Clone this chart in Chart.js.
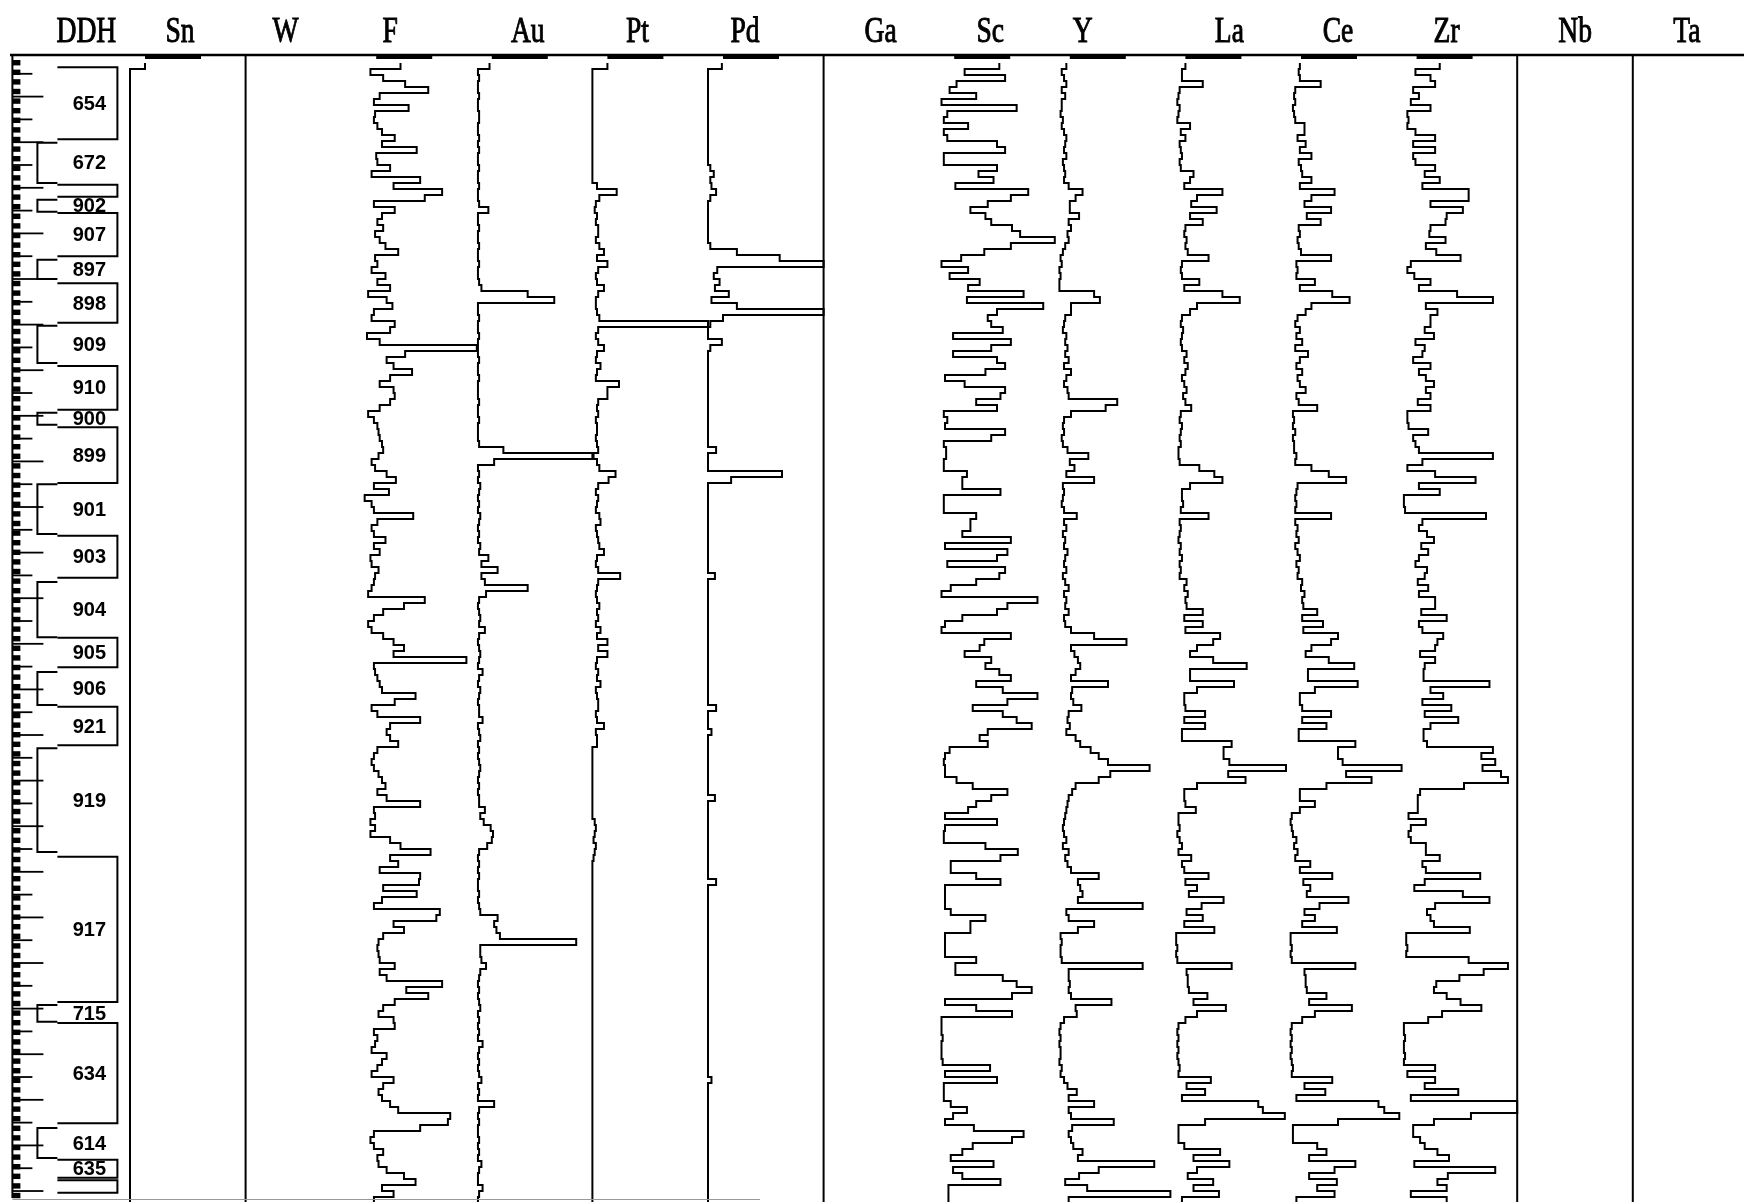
<!DOCTYPE html>
<html lang="en">
<head>
<meta charset="UTF-8">
<title>DDH geochemical log</title>
<script src="https://cdn.jsdelivr.net/npm/chart.js@4/dist/chart.umd.min.js"></script>
<style>
  body { margin: 0; background: #fff; }
  #wrap { width: 1744px; height: 1202px; }
</style>
</head>
<body>
<div id="wrap"><canvas id="logChart" width="1744" height="1202"></canvas></div>
<script>
// column headers, left to right
const columns = ['DDH', 'Sn', 'W', 'F', 'Au', 'Pt', 'Pd', 'Ga', 'Sc', 'Y', 'La', 'Ce', 'Zr', 'Nb', 'Ta'];

// one reading per sample interval down the hole, % of the column's full scale
const sn = [
  13,0,0,0,0,0,0,0,0,0, 0,0,0,0,0,0,0,0,0,0, 0,0,0,0,0,0,0,0,0,0, 0,0,0,0,0,0,0,0,0,0,
  0,0,0,0,0,0,0,0,0,0, 0,0,0,0,0,0,0,0,0,0, 0,0,0,0,0,0,0,0,0,0, 0,0,0,0,0,0,0,0,0,0,
  0,0,0,0,0,0,0,0,0,0, 0,0,0,0,0,0,0,0,0,0, 0,0,0,0,0,0,0,0,0,0, 0,0,0,0,0,0,0,0,0,0,
  0,0,0,0,0,0,0,0,0,0, 0,0,0,0,0,0,0,0,0,0, 0,0,0,0,0,0,0,0,0,0, 0,0,0,0,0,0,0,0,0,0,
  0,0,0,0,0,0,0,0,0,0, 0,0,0,0,0,0,0,0,0,0, 0,0,0,0,0,0,0,0,0,0
];
const f = [
  34,8,19,38,58,16,11,41,12,11, 14,18,29,18,48,13,14,25,9,51, 28,70,55,11,29,18,14,19,12,16,
  21,32,12,14,9,21,14,25,6,22, 27,11,9,29,25,5,16,100,38,22, 28,44,25,16,28,29,25,16,6,11,
  14,15,16,18,19,15,9,12,22,30, 11,24,3,9,11,45,14,9,11,21, 11,16,8,9,15,12,11,9,6,55,
  37,19,11,6,9,19,28,37,28,91, 11,12,14,16,18,47,29,9,14,51, 25,22,25,32,14,11,9,11,15,18,
  21,14,22,51,11,12,8,12,8,25, 34,60,25,32,16,51,50,19,48,18, 11,68,65,28,37,19,15,14,15,16,
  29,16,22,70,39,58,29,19,15,28, 29,11,14,12,9,22,18,14,9,28, 19,15,18,25,32,77,75,51,11,8,
  11,19,14,15,22,37,47,18,28,11
];
const au = [
  11,1,2,1,1,2,1,1,2,2, 1,1,2,1,2,1,1,2,1,1, 2,1,1,2,10,1,1,2,1,1, 2,1,1,2,1,1,2,4,44,67,
  1,1,2,1,1,2,1,1,1,2, 1,1,2,1,1,1,2,1,1,2, 1,1,1,2,23,100,15,1,2,1, 3,2,1,2,1,3,2,1,2,1,
  3,2,10,4,18,4,7,44,8,2, 1,2,3,2,7,2,1,2,3,2, 1,5,2,1,3,2,1,2,2,5, 1,2,3,1,2,1,2,3,2,1,
  2,1,2,2,7,3,6,12,14,13, 9,2,1,2,1,2,1,1,2,1, 2,3,18,15,17,20,86,3,3,4, 8,3,2,1,2,1,2,3,1,2,
  1,2,1,5,2,1,2,1,2,4, 1,2,1,15,2,1,2,1,1,2, 1,2,1,4,2,1,1,5,2,1
];
const pt = [
  13,0,0,0,0,0,0,0,0,0, 0,0,0,0,0,0,0,0,0,0, 4,21,6,3,2,4,3,5,5,3, 6,10,4,13,5,3,4,10,5,3,
  3,4,6,100,5,3,5,10,4,3, 7,4,3,23,13,13,5,4,5,3, 4,4,3,4,5,1,4,6,20,14, 5,3,5,4,3,6,7,3,4,5,
  6,10,4,3,5,24,5,4,3,4, 6,4,5,3,7,4,13,5,13,4, 3,5,4,7,3,4,5,5,3,4, 10,3,4,4,0,0,0,0,0,0,
  0,0,0,0,0,0,2,3,2,1, 3,2,1,0,0,0,0,0,0,0, 0,0,0,0,0,0,0,0,0,0, 0,0,0,0,0,0,0,0,0,0,
  0,0,0,0,0,0,0,0,0,0, 0,0,0,0,0,0,0,0,0,0, 0,0,0,0,0,0,0,0,0,0
];
const pd = [
  12,0,0,0,0,0,0,0,0,0, 0,0,0,0,0,0,0,2,5,2, 3,7,2,0,0,0,0,0,0,0, 2,25,62,100,8,5,10,6,18,3,
  25,100,13,2,0,0,12,2,0,0, 0,0,0,0,0,0,0,0,0,0, 0,0,0,0,7,0,0,0,64,20, 0,0,0,0,0,0,0,0,0,0,
  0,0,0,0,0,6,0,0,0,0, 0,0,0,0,0,0,0,0,0,0, 0,0,0,0,0,0,0,7,0,0, 0,3,0,0,0,0,0,0,0,0,
  0,0,6,0,0,0,0,0,0,0, 0,0,0,0,0,0,7,0,0,0, 0,0,0,0,0,0,0,0,0,0, 0,0,0,0,0,0,0,0,0,0,
  0,0,0,0,0,0,0,0,0,3, 0,0,0,0,0,0,0,0,0,0, 0,0,0,0,0,0,0,0,0,0
];
const sc = [
  52,22,57,15,9,32,2,67,7,4, 25,4,7,50,57,4,4,50,34,47, 14,77,62,42,27,40,45,63,70,100,
  62,39,19,2,25,9,35,25,73,24, 90,50,42,45,55,12,62,45,12,50, 57,40,5,22,57,53,32,50,4,7,
  5,57,45,4,6,6,4,4,24,20, 20,53,4,4,4,32,27,27,20,62, 5,59,50,7,57,52,32,10,2,85,
  59,50,20,5,2,62,39,35,22,45, 40,52,62,32,55,85,59,29,55,67, 80,42,35,42,9,5,4,5,5,15,
  29,59,45,32,25,5,50,5,4,4, 40,68,53,10,10,32,53,5,5,5, 5,10,40,27,27,5,5,5,5,32,
  14,14,55,67,80,63,5,32,63,2, 2,2,3,2,2,2,3,44,5,50, 4,4,4,10,24,12,5,30,73,63,
  29,20,10,47,12,20,53,8,8,8
];
const yt = [
  10,6,8,10,6,9,6,6,5,7, 6,8,10,9,8,10,7,8,9,8, 12,24,18,13,13,21,12,14,11,12,
  9,7,5,6,4,5,4,4,34,39, 14,14,9,8,7,10,9,11,9,12, 8,14,10,8,11,12,54,44,14,8,
  7,8,6,7,11,29,13,17,10,34, 7,8,7,6,8,19,8,10,7,9, 8,11,9,8,10,7,9,12,8,10,
  9,12,8,9,14,34,62,14,17,20, 22,18,14,46,15,14,16,23,12,11, 13,10,18,22,31,38,46,82,48,38,
  18,15,12,11,10,9,8,7,8,10, 7,12,9,11,14,38,20,22,24,20, 76,10,12,34,20,5,6,5,5,6,
  76,12,12,13,12,14,49,18,19,8, 5,4,5,4,5,5,4,6,5,8, 11,19,12,34,12,14,51,15,12,14,
  16,24,20,86,38,21,9,28,100,12
];
const la = [
  13,10,10,28,8,7,6,8,7,6, 17,9,13,8,9,10,8,9,20,17, 12,45,23,18,40,17,28,13,12,14,
  13,15,33,10,9,10,25,12,45,60, 23,17,10,9,11,10,9,10,14,12, 15,13,10,12,14,11,13,18,9,8,
  10,9,8,9,7,7,8,25,38,45, 17,10,10,11,9,33,8,9,8,7, 9,8,10,8,9,8,14,12,15,13,
  14,28,12,28,13,43,37,23,17,37, 66,17,17,55,23,12,12,13,30,12, 30,10,10,53,46,46,51,100,50,65,
  23,12,12,13,22,7,7,8,6,8, 10,7,18,10,12,33,13,23,16,46, 27,14,28,12,38,5,5,6,5,6,
  53,14,15,15,16,32,20,48,23,13, 7,6,7,6,7,6,7,8,7,35, 14,30,10,76,80,99,30,7,7,7,
  12,43,20,51,23,15,37,20,42,10
];
const ce = [
  12,11,12,30,8,7,8,6,7,8, 16,16,10,17,12,22,11,13,14,22, 12,42,22,16,39,18,30,11,12,10,
  11,13,39,9,10,9,25,12,40,55, 22,17,10,8,12,9,14,8,19,12, 9,14,10,12,17,9,11,27,6,7,
  6,8,6,7,7,9,8,22,37,52, 10,9,8,9,8,39,8,10,9,11, 8,10,12,9,11,10,14,13,16,14,
  15,27,14,32,15,45,39,22,17,37, 59,19,19,62,25,12,12,14,39,14, 35,11,11,60,45,45,49,100,52,74,
  35,12,12,25,12,5,4,5,6,9, 7,10,8,21,12,40,15,21,18,54, 29,16,25,14,44,4,4,5,4,5,
  60,16,17,17,18,35,20,57,25,14, 5,4,5,4,5,4,5,6,5,40, 16,34,9,80,85,98,45,6,6,6,
  27,35,20,60,42,20,44,27,42,9
];
const zr = [
  33,12,25,29,10,15,8,25,5,6, 5,12,29,10,29,10,12,29,20,33, 18,58,58,25,53,39,38,25,24,38,
  21,30,51,8,5,11,25,15,48,79, 21,31,25,25,20,28,12,20,18,10, 25,15,21,28,21,25,14,25,5,5,
  6,23,10,12,15,79,18,5,29,64, 15,33,2,2,3,73,18,15,22,28, 17,23,15,12,22,20,14,23,15,29,
  29,17,39,15,18,36,31,29,16,29, 20,19,19,76,25,36,18,43,20,49, 25,19,19,22,79,69,81,70,86,92,
  54,16,14,14,14,6,21,8,6,8, 21,21,33,18,21,68,20,11,53,76, 29,22,25,28,59,4,4,5,4,58,
  92,71,50,30,28,39,51,69,35,23, 2,2,3,2,2,3,2,29,5,29, 20,49,8,100,100,60,28,10,10,16,
  20,31,41,11,81,40,31,39,8,39
];

// drill holes down the log: id, top and base in sample units, side of the bracket
const holeIds  = ['654','672','','902','907','897','898','909','910','900','899','901',
                  '903','904','905','906','921','919','917','715','634','614','635',''];
const holeTop  = [0.7,13.3,20.3,22.8,25,32.8,36.7,43.8,50.5,58.3,60.7,70.2,
                  78.8,86.5,95.8,101.5,107.3,114.2,132.3,157,160,177.5,182.8,186.2];
const holeBase = [12.7,20,22.3,24.8,32.2,36,43.3,50,57.8,60.3,70,78.5,
                  85.8,95.7,100.7,107,113.7,131.5,156.5,159.8,176.7,182.5,185.8,188.3];
const holeSide = ['R','L','R','L','R','L','R','L','R','L','R','L',
                  'R','L','R','L','R','L','R','L','R','L','R','R'];

const traces = [['Sn', sn], ['F', f], ['Au', au], ['Pt', pt], ['Pd', pd],
                ['Sc', sc], ['Y', yt], ['La', la], ['Ce', ce], ['Zr', zr]];
const blankCols = ['W', 'Ga', 'Nb', 'Ta'];

// header text offset from each column's left edge (px)
const headerShift = [72, 50, 40, 29, 51, 45, 37, 57, 51, 28, 59, 52, 45, 58, 54];

const TOP = -1.5, BOTTOM = 189.83;

const lineStyle = {
  showLine: true, stepped: 'after', pointRadius: 0, borderColor: '#000',
  borderWidth: 2, fill: false, tension: 0
};

const datasets = traces.map(([name, vals]) => {
  const k = columns.indexOf(name);
  const pts = vals.map((v, i) => ({ x: k + Math.min(v, 100) / 100, y: i }));
  pts.push({ x: pts[pts.length - 1].x, y: vals.length });
  return { label: name, data: pts, ...lineStyle };
});
blankCols.forEach(name => {
  const k = columns.indexOf(name);
  datasets.push({ label: name, data: [{ x: k, y: TOP }, { x: k, y: BOTTOM + 1 }], ...lineStyle });
});

// header, depth ruler and hole brackets in the DDH column
const logFrame = {
  id: 'logFrame',
  afterDraw(chart) {
    const { ctx, scales: { x, y } } = chart;
    const left = k => x.getPixelForValue(k);
    const py = d => y.getPixelForValue(d);
    ctx.save();
    ctx.fillStyle = '#000';
    ctx.strokeStyle = '#000';

    ctx.lineWidth = 2.5;
    ctx.beginPath();
    ctx.moveTo(10, 55);
    ctx.lineTo(chart.width, 55);
    ctx.stroke();

    // element names, drawn tall and narrow
    ctx.font = '30px "Liberation Serif", "DejaVu Serif", serif';
    ctx.textAlign = 'center';
    ctx.textBaseline = 'alphabetic';
    ctx.lineWidth = 0.8;
    columns.forEach((name, k) => {
      ctx.save();
      ctx.translate(left(k) + headerShift[k], 42);
      ctx.scale(0.92, 1.22);
      ctx.fillText(name, 0, 0);
      ctx.strokeText(name, 0, 0);
      ctx.restore();
    });
    traces.forEach(([name]) => {
      const k = columns.indexOf(name);
      ctx.fillRect(left(k) + 15, 55, 56, 4);
    });

    const x0 = left(0);
    // ruler
    ctx.lineWidth = 2;
    ctx.beginPath();
    ctx.moveTo(x0 - 2, 55);
    ctx.lineTo(x0 - 2, 1198);
    ctx.stroke();
    for (let d = -0.5; d < BOTTOM; d += 1.6) {
      ctx.fillRect(x0 - 2, py(d), 8, py(d + 0.9) - py(d));
    }
    ctx.lineWidth = 1.8;
    let n = 0;
    for (let d = 1.8; d < BOTTOM; d += 3.8, n++) {
      ctx.beginPath();
      ctx.moveTo(x0 - 2, py(d));
      ctx.lineTo(x0 + (n % 2 ? 29 : 18), py(d));
      ctx.stroke();
    }

    // hole intervals
    ctx.lineWidth = 2;
    ctx.font = 'bold 20px "Liberation Sans", Arial, sans-serif';
    ctx.textBaseline = 'middle';
    holeIds.forEach((id, i) => {
      const t = py(holeTop[i]), b = py(holeBase[i]);
      const edge = holeSide[i] === 'R' ? x0 + 103 : x0 + 23;
      ctx.beginPath();
      ctx.moveTo(x0 + 43, t);
      ctx.lineTo(edge, t);
      ctx.lineTo(edge, b);
      ctx.lineTo(x0 + 43, b);
      ctx.stroke();
      if (id) ctx.fillText(id, x0 + 75, (t + b) / 2 + 1);
    });

    ctx.strokeStyle = '#999';
    ctx.lineWidth = 1;
    ctx.beginPath();
    ctx.moveTo(x0 - 2, 1199.5);
    ctx.lineTo(760, 1199.5);
    ctx.stroke();
    ctx.restore();
  }
};

new Chart('logChart', {
  type: 'scatter',
  data: { datasets },
  options: {
    responsive: false,
    animation: false,
    events: [],
    layout: { padding: { top: 54, left: 14.4, right: 0, bottom: 0 } },
    scales: {
      x: { type: 'linear', min: 0, max: 14.962, display: false },
      y: { type: 'linear', reverse: true, min: TOP, max: BOTTOM, display: false }
    },
    plugins: { legend: { display: false }, tooltip: { enabled: false } }
  },
  plugins: [logFrame]
});
</script>
</body>
</html>
